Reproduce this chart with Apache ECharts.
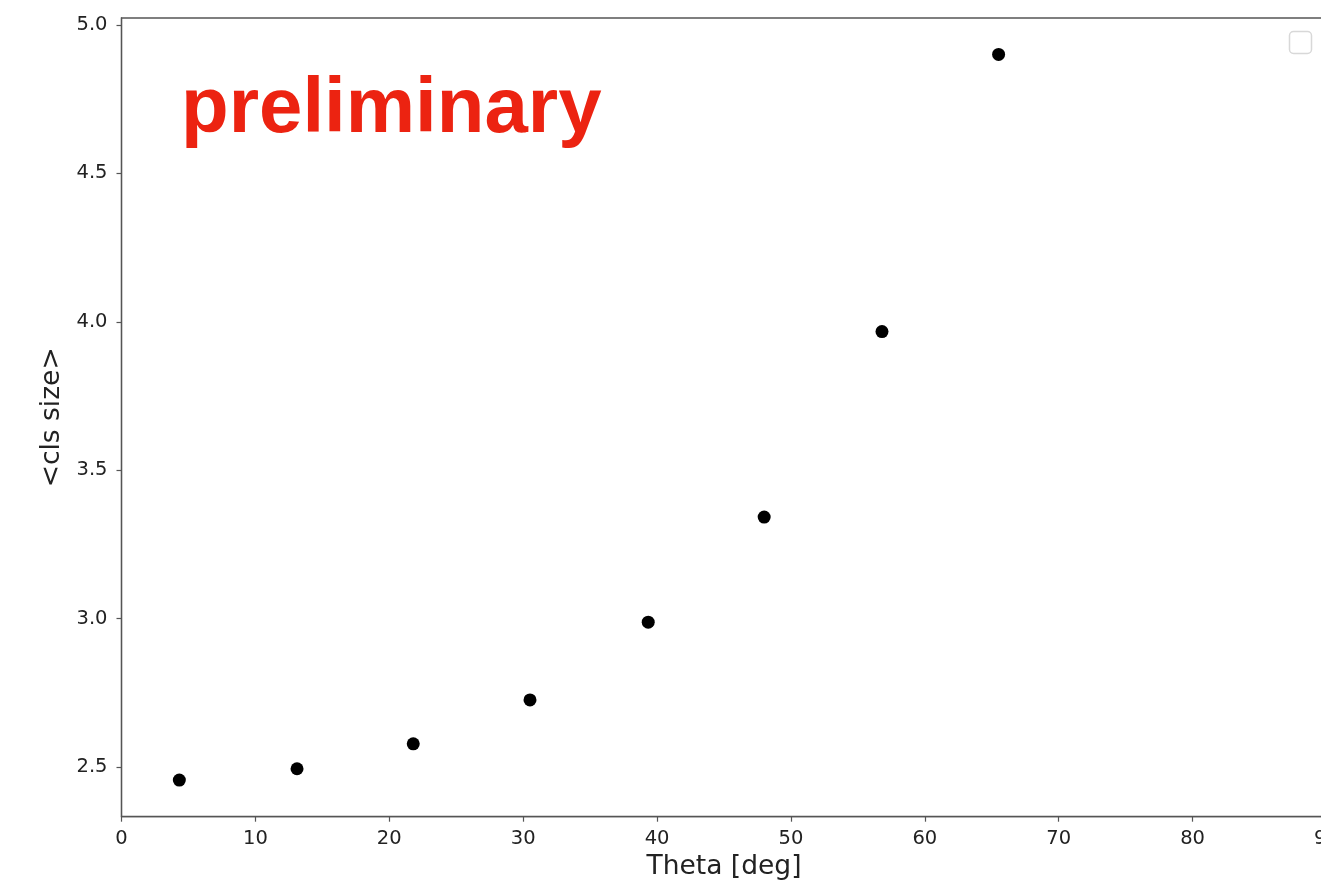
<!DOCTYPE html>
<html>
<head>
<meta charset="utf-8">
<script src="https://cdn.jsdelivr.net/npm/echarts@6/dist/echarts.min.js"></script>
<style>
html,body{margin:0;padding:0;background:#fff;}
#chart{width:1321px;height:882px;}
</style>
</head>
<body>
<div id="chart"></div>
<script>
var thetaDeg = [4.32, 13.11, 21.79, 30.51, 39.34, 48.0, 56.8, 65.51];
var clsSize = [2.456, 2.494, 2.578, 2.726, 2.988, 3.342, 3.967, 4.901];
var yTicks = [2.5, 3.0, 3.5, 4.0, 4.5, 5.0];
var xLabel = 'Theta [deg]';
var yLabel = '<cls size>';
var stamp = 'preliminary';

var points = thetaDeg.map(function (x, i) { return [x, clsSize[i]]; });

var chart = echarts.init(document.getElementById('chart'), null, {renderer: 'canvas'});
var axisColor = '#555';
var font = 'DejaVu Sans';
chart.setOption({
  animation: false,
  backgroundColor: '#fff',
  grid: {
    left: 121.5, top: 18, width: 1205, height: 798.7,
    outerBoundsMode: 'none', containLabel: false,
    show: true, borderColor: axisColor, borderWidth: 1.3, backgroundColor: 'transparent'
  },
  xAxis: {
    type: 'value', min: 0, max: 90, interval: 10,
    name: xLabel, nameLocation: 'middle', nameGap: 36,
    nameTextStyle: {fontFamily: font, fontSize: 26.5, color: '#222'},
    axisLine: {show: true, onZero: false, lineStyle: {color: axisColor, width: 1.3}},
    axisTick: {show: true, inside: false, length: 5, lineStyle: {color: axisColor, width: 1.2}},
    axisLabel: {fontFamily: font, fontSize: 19.5, color: '#222', margin: 12, hideOverlap: false},
    splitLine: {show: false}
  },
  yAxis: {
    type: 'value', min: 2.3325, max: 5.0236,
    name: yLabel, nameLocation: 'middle', nameGap: 56, nameRotate: 90,
    nameTextStyle: {fontFamily: font, fontSize: 26.5, color: '#222'},
    axisLine: {show: true, onZero: false, lineStyle: {color: axisColor, width: 1.3}},
    axisTick: {show: true, length: 5, customValues: yTicks, lineStyle: {color: axisColor, width: 1.2}},
    axisLabel: {fontFamily: font, fontSize: 19.5, color: '#222', margin: 14, customValues: yTicks,
      formatter: function (v) { return v.toFixed(1); }},
    splitLine: {show: false}
  },
  graphic: [
    {type: 'text', left: 181, top: 71, z: 10,
      style: {text: stamp, fontFamily: 'Liberation Sans', fontWeight: 'bold', fontSize: 78, fill: '#EC2311'}},
    {type: 'rect', shape: {x: 1289.5, y: 31.5, width: 22, height: 22, r: 4},
      style: {fill: '#fff', stroke: '#d8d8d8', lineWidth: 1.5}, z: 10}
  ],
  series: [{
    type: 'scatter', data: points, symbol: 'circle', symbolSize: 13,
    itemStyle: {color: '#000', opacity: 1}
  }]
});
</script>
</body>
</html>
